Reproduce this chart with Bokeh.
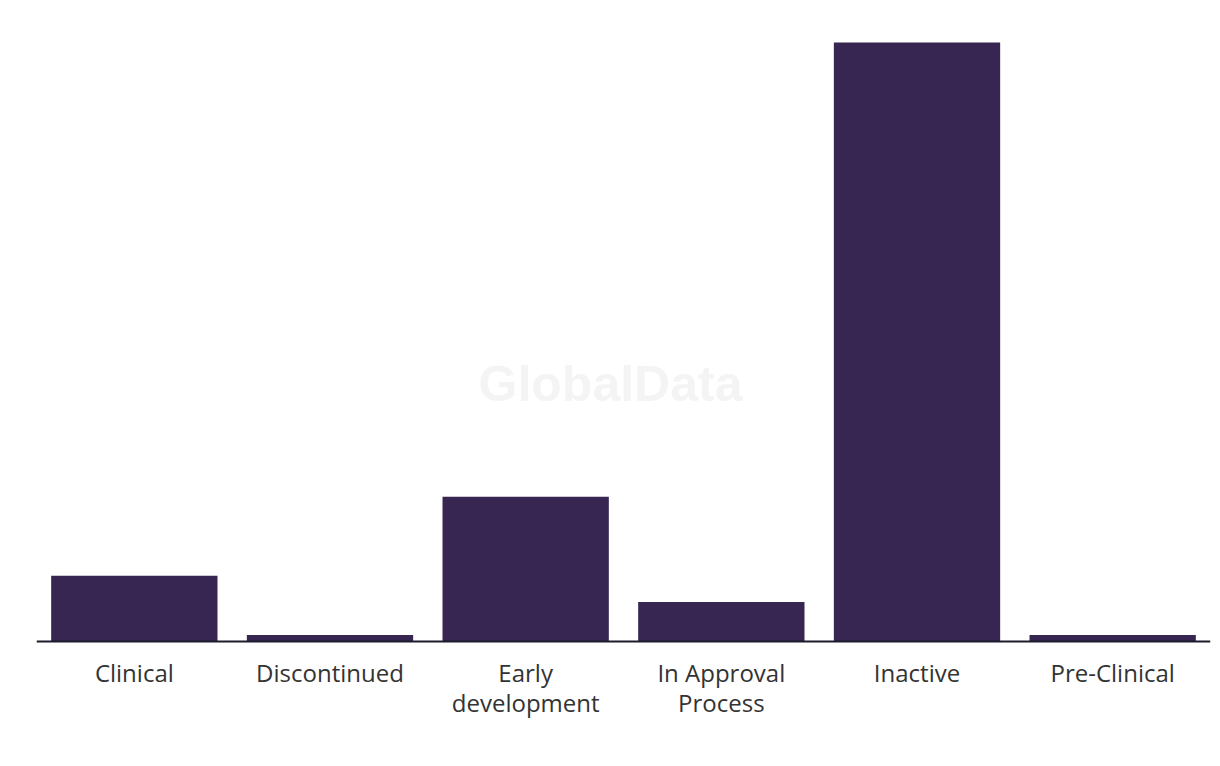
from bokeh.plotting import figure
from bokeh.models import Range1d, Label, Span
from bokeh.core.properties import value
from bokeh.embed import file_html
from bokeh.resources import INLINE

categories = ["Clinical", "Discontinued", "Early development", "In Approval Process", "Inactive", "Pre-Clinical"]
tick_labels = ["Clinical", "Discontinued", "Early\ndevelopment", "In Approval\nProcess", "Inactive", "Pre-Clinical"]
counts = [10, 1, 22, 6, 91, 1]

p = figure(x_range=categories, width=1220, height=766, output_backend="svg",
           toolbar_location=None, tools="",
           min_border_left=36, min_border_right=10, min_border_top=0, min_border_bottom=0)
p.y_range = Range1d(-18.99, 97.4)

wm = Label(x=574, y=383, x_units="screen", y_units="screen", text="GlobalData",
           text_font="Liberation Sans", text_font_style="bold", text_font_size="50px",
           text_color="#f4f4f4", text_align="center", text_baseline="middle", level="underlay")
p.add_layout(wm)

p.vbar(x=categories, top=counts, width=0.85, color="#372552", line_color=None)

# baseline (category axis line)
p.add_layout(Span(location=0, dimension="width", line_color="#1c1a2b", line_width=2))

# category labels (multi-line) drawn under the baseline
p.text(x=categories, y=[0] * len(categories), text=tick_labels,
       text_font=value("Open Sans"), text_font_size="24px", text_color="#333333",
       text_align="center", text_baseline="top", text_line_height=0.92,
       y_offset=14)

p.xaxis.visible = False
p.yaxis.visible = False
p.xgrid.grid_line_color = None
p.ygrid.grid_line_color = None
p.outline_line_color = None
p.x_range.range_padding = 0

open("out.html", "w").write(file_html(p, INLINE))
